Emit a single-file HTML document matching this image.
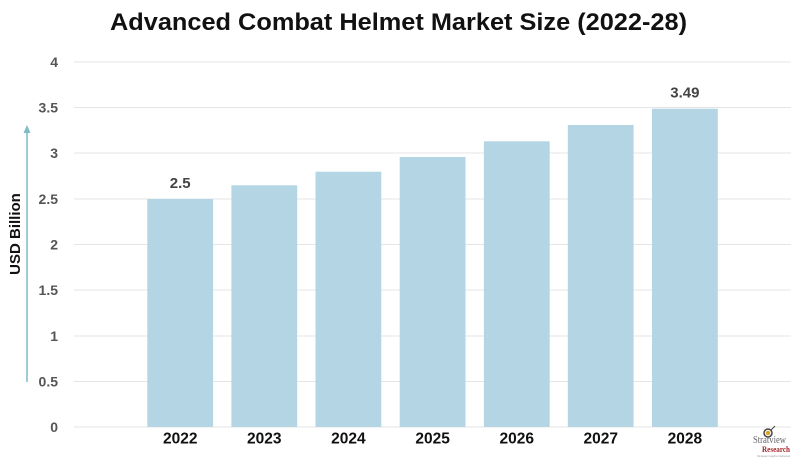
<!DOCTYPE html>
<html>
<head>
<meta charset="utf-8">
<style>
  html,body{margin:0;padding:0;background:#fff;}
  svg{display:block;}
  text{font-family:"Liberation Sans",sans-serif;}
</style>
</head>
<body>
<svg width="802" height="459" viewBox="0 0 802 459" xmlns="http://www.w3.org/2000/svg">
  <rect width="802" height="459" fill="#fff"/>
  <!-- title -->
  <text x="398.5" y="30" text-anchor="middle" font-size="24" font-weight="bold" fill="#111" textLength="577" lengthAdjust="spacingAndGlyphs">Advanced Combat Helmet Market Size (2022-28)</text>

  <!-- gridlines -->
  <g stroke="#e5e5e5" stroke-width="1">
    <line x1="74" y1="62" x2="791" y2="62"/>
    <line x1="74" y1="107.5" x2="791" y2="107.5"/>
    <line x1="74" y1="153" x2="791" y2="153"/>
    <line x1="74" y1="199" x2="791" y2="199"/>
    <line x1="74" y1="244.5" x2="791" y2="244.5"/>
    <line x1="74" y1="290" x2="791" y2="290"/>
    <line x1="74" y1="336" x2="791" y2="336"/>
    <line x1="74" y1="381.5" x2="791" y2="381.5"/>
    <line x1="74" y1="427" x2="791" y2="427"/>
  </g>

  <!-- y tick labels -->
  <g font-size="14" font-weight="bold" fill="#555" text-anchor="end">
    <text x="58" y="67">4</text>
    <text x="58" y="112.5">3.5</text>
    <text x="58" y="158">3</text>
    <text x="58" y="204">2.5</text>
    <text x="58" y="249.5">2</text>
    <text x="58" y="295">1.5</text>
    <text x="58" y="341">1</text>
    <text x="58" y="386.5">0.5</text>
    <text x="58" y="432">0</text>
  </g>

  <!-- y axis title and arrow -->
  <text transform="translate(20,234) rotate(-90)" text-anchor="middle" font-size="15" font-weight="bold" fill="#111">USD Billion</text>
  <line x1="27" y1="382" x2="27" y2="132" stroke="#7fbcc8" stroke-width="1.5"/>
  <polygon points="27,125 23.5,133 30.5,133" fill="#7fbcc8"/>

  <!-- bars -->
  <g fill="#b4d6e4">
    <rect x="147.3" y="199" width="65.8" height="228"/>
    <rect x="231.4" y="185.3" width="65.8" height="241.7"/>
    <rect x="315.5" y="171.7" width="65.8" height="255.3"/>
    <rect x="399.7" y="157" width="65.8" height="270"/>
    <rect x="483.9" y="141.3" width="65.8" height="285.7"/>
    <rect x="567.8" y="125" width="65.8" height="302"/>
    <rect x="652" y="108.7" width="65.8" height="318.3"/>
  </g>

  <!-- value labels -->
  <g font-size="15" font-weight="bold" fill="#444" text-anchor="middle">
    <text x="180.2" y="188">2.5</text>
    <text x="684.9" y="97.3">3.49</text>
  </g>

  <!-- x labels -->
  <g font-size="15.5" font-weight="bold" fill="#111" text-anchor="middle">
    <text x="180.2" y="443.5">2022</text>
    <text x="264.3" y="443.5">2023</text>
    <text x="348.4" y="443.5">2024</text>
    <text x="432.6" y="443.5">2025</text>
    <text x="516.8" y="443.5">2026</text>
    <text x="600.7" y="443.5">2027</text>
    <text x="684.9" y="443.5">2028</text>
  </g>

  <!-- logo -->
  <g>
    <circle cx="768" cy="433" r="4" fill="none" stroke="#444" stroke-width="1.5"/>
    <circle cx="768" cy="433" r="2.2" fill="#e0a020"/>
    <line x1="771" y1="430" x2="775" y2="426" stroke="#444" stroke-width="1"/>
    <text x="753" y="443" style="font-family:'Liberation Serif',serif" font-size="10" fill="#666" textLength="33" lengthAdjust="spacingAndGlyphs">Stratview</text>
    <text x="762" y="452" style="font-family:'Liberation Serif',serif" font-size="8.5" font-weight="bold" fill="#a3262a" textLength="28" lengthAdjust="spacingAndGlyphs">Research</text>
    <text x="757" y="457" font-size="3" fill="#999" textLength="33" lengthAdjust="spacingAndGlyphs">Strategic Insights Delivered</text>
  </g>
</svg>
</body>
</html>
